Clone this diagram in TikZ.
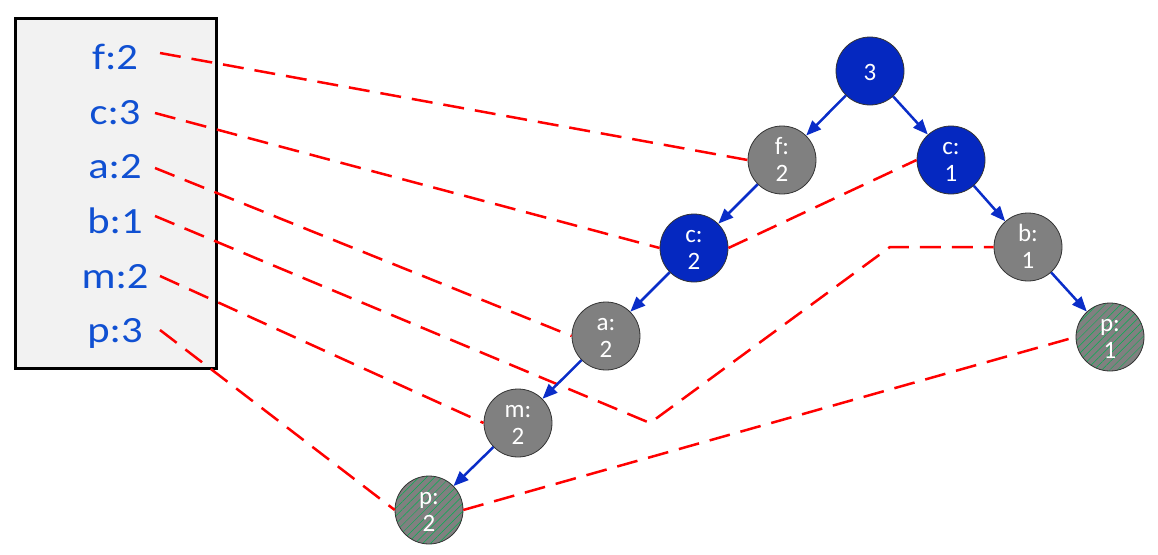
\documentclass[tikz,border=0pt]{standalone}
\usepackage{fontspec}
\setmainfont{Carlito}
\newfontfamily\lblfont[FakeStretch=1.15]{Carlito}
\usetikzlibrary{arrows.meta,patterns.meta}
\definecolor{nodeblue}{RGB}{5,40,192}
\definecolor{edgeblue}{RGB}{10,45,200}
\definecolor{lblblue}{RGB}{16,80,210}
\definecolor{boxgray}{RGB}{242,242,242}
\definecolor{nodegray}{RGB}{128,128,128}
\definecolor{hatchgreen}{RGB}{0,176,80}
\newcommand\treenode[6]{%
  \node[#4] (#1) at (#2,#3) {};
  \node[ntext] at (#2,#3-5.5) {#5};
  \node[ntext] at (#2,#3+21) {#6};}
\begin{document}
\begin{tikzpicture}[x=1pt,y=-1pt,
  tn/.style={circle, minimum size=68pt, inner sep=0pt, draw=black!80, line width=0.8pt},
  bluen/.style={tn, fill=nodeblue},
  grayn/.style={tn, fill=nodegray},
  hatchn/.style={tn, preaction={fill=nodegray}, pattern={Lines[angle=45,distance=5.5pt,line width=0.5pt]}, pattern color=hatchgreen},
  ntext/.style={text=white, font=\fontsize{25}{30}\selectfont, anchor=base, inner sep=0pt},
  lbl/.style={text=lblblue, font=\lblfont\fontsize{37}{44}\selectfont, anchor=base, inner sep=0pt},
  link/.style={draw=red, line width=2.5pt, dash pattern=on 21pt off 11pt},
  treeedge/.style={draw=edgeblue, line width=2.5pt, -{Triangle[length=15pt,width=12pt]}},
]
\useasboundingbox (0,0) rectangle (1158,554);
% header table
\draw[line width=3pt, fill=boxgray] (15.5,18.5) rectangle (216.5,368.5);
\node[lbl] (lf) at (115,69.3) {f:2};
\node[lbl] (lc) at (115,124) {c:3};
\node[lbl] (la) at (115,178.7) {a:2};
\node[lbl] (lb) at (115,233.4) {b:1};
\node[lbl] (lm) at (115,288) {m:2};
\node[lbl] (lp) at (115,342.8) {p:3};
\coordinate (sf) at (160,53);
\coordinate (sc) at (155,113);
\coordinate (sa) at (155,168);
\coordinate (sb) at (155,216);
\coordinate (sm) at (160,276);
\coordinate (sp) at (160,330);
\coordinate (kb1) at (650,423);
\coordinate (kb2) at (890,247);
% tree nodes
\node[bluen] (root) at (870,71) {};
\node[ntext] at (870,80) {3};
\treenode{f2}{782}{160}{grayn}{f:}{2}
\treenode{c2}{694}{248}{bluen}{c:}{2}
\treenode{a2}{606}{336}{grayn}{a:}{2}
\treenode{m2}{518}{423}{grayn}{m:}{2}
\treenode{p2}{429}{510}{hatchn}{p:}{2}
\treenode{c1}{951}{160}{bluen}{c:}{1}
\treenode{b1}{1028}{247}{grayn}{b:}{1}
\treenode{p1}{1110}{337}{hatchn}{p:}{1}
% node links
\draw[link] (sf) -- (f2.west);
\draw[link] (sc) -- (c2.west);
\draw[link] (c2.east) -- (c1.west);
\draw[link] (sa) -- (a2.west);
\draw[link] (sb) -- (kb1) -- (kb2) -- (b1.west);
\draw[link] (sm) -- (m2.west);
\draw[link] (sp) -- (p2.west);
\draw[link] (p2.east) -- (p1.west);
% tree edges
\draw[treeedge] (root) -- (f2);
\draw[treeedge] (root) -- (c1);
\draw[treeedge] (f2) -- (c2);
\draw[treeedge] (c2) -- (a2);
\draw[treeedge] (a2) -- (m2);
\draw[treeedge] (m2) -- (p2);
\draw[treeedge] (c1) -- (b1);
\draw[treeedge] (b1) -- (p1);
\end{tikzpicture}
\end{document}
